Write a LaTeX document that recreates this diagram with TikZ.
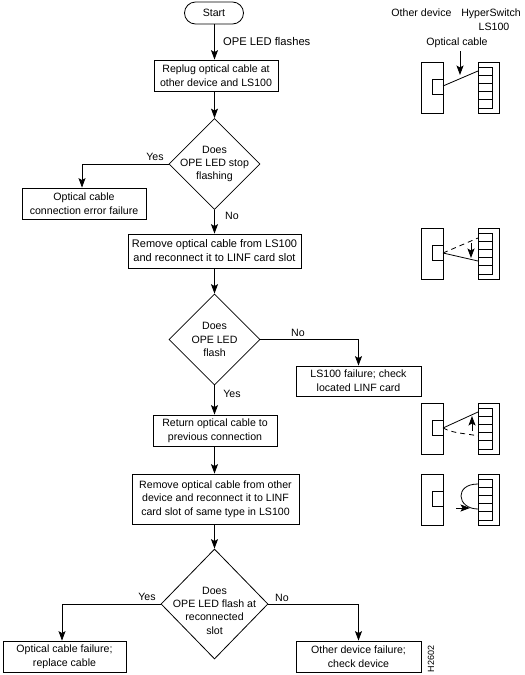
\documentclass[tikz,border=0pt]{standalone}
\usepackage{fontspec}
\setmainfont{Liberation Sans}
\usetikzlibrary{shapes.geometric,arrows.meta}
\tikzset{
  x=1pt,y=-1pt,
  every node/.style={font=\fontsize{10.6}{13.6}\selectfont},
  every label/.style={font=\fontsize{10.6}{13.4}\selectfont,align=center,inner sep=0pt},
  ln/.style={line width=0.8pt,black},
  arr/.style={ln,-{Stealth[length=9.5pt,width=7pt,inset=2pt]}},
  fbox/.style={ln,draw,rectangle,align=center,inner sep=0pt},
  startbox/.style={ln,draw,rectangle,rounded corners=11pt,minimum width=59pt,minimum height=22pt,inner sep=0pt},
  dia/.style={ln,draw,diamond,inner sep=0pt},
  txt/.style={inner sep=0pt,align=center},
}
\newcommand{\devicepair}[1]{%
  \draw[ln] (421.5,#1) rectangle (443,#1+51);
  \draw[ln] (432,#1+17.5) rectangle (443,#1+32);
  \draw[ln] (478,#1) rectangle (499,#1+51);
  \draw[ln] (478,#1+5) rectangle (492,#1+46);
  \foreach \k in {1,2,3,4} {\draw[ln] (478,#1+5+8.2*\k) -- (492,#1+5+8.2*\k);}
}
\begin{document}
\begin{tikzpicture}
\useasboundingbox[fill=white] (0,0) rectangle (525,675);
% flow nodes
\node[startbox] (start) at (214,13) {Start};
\node[fbox,minimum width=124pt,minimum height=31pt] (replug) at (216,75.5) {Replug optical cable at\\other device and LS100};
\node[dia,minimum width=91pt,minimum height=91pt,label={center:Does\\OPE LED stop\\flashing}] (d1) at (214.5,164) {};
\node[fbox,minimum width=124pt,minimum height=31pt] (err) at (84,203.5) {Optical cable\\connection error failure};
\node[fbox,minimum width=173pt,minimum height=34pt,font=\fontsize{11}{14}\selectfont] (rem) at (214.5,251) {Remove optical cable from LS100\\and reconnect it to LINF card slot};
\node[dia,minimum width=91pt,minimum height=91pt,label={center:Does\\OPE LED\\flash}] (d2) at (214.5,339.5) {};
\node[fbox,minimum width=125pt,minimum height=30pt] (lsf) at (358.5,381) {LS100 failure; check\\located LINF card};
\node[fbox,minimum width=124pt,minimum height=31pt] (ret) at (215,430.5) {Return optical cable to\\previous connection};
\node[fbox,minimum width=167pt,minimum height=50pt] (rem2) at (215.5,499) {Remove optical cable from other\\device and reconnect it to LINF\\card slot of same type in LS100};
\node[dia,minimum width=107pt,minimum height=110pt,label={[yshift=-6.5pt]center:Does\\OPE LED flash at\\reconnected\\slot}] (d3) at (214.5,604) {};
\node[fbox,minimum width=123pt,minimum height=31pt] (cf) at (64.5,656.5) {Optical cable failure;\\replace cable};
\node[fbox,minimum width=125pt,minimum height=31pt] (odf) at (358.5,656.5) {Other device failure;\\check device};
% connectors
\draw[arr] (start.south -| d1) -- (d1 |- replug.north);
\draw[arr] (replug.south -| d1) -- (d1.north);
\draw[arr] (d1.west) -| ([xshift=-2pt]err.north);
\draw[arr] (d1.south) -- (d1.south |- rem.north);
\draw[arr] (rem.south -| d2) -- (d2.north);
\draw[arr] (d2.east) -| (lsf.north);
\draw[arr] (d2.south) -- (d2.south |- ret.north);
\draw[arr] (ret.south -| d2) -- (d2 |- rem2.north);
\draw[arr] (rem2.south -| d3) -- (d3.north);
\draw[arr] (d3.west) -| ([xshift=-2.5pt]cf.north);
\draw[arr] (d3.east) -| (odf.north);
% labels
\node[txt,anchor=west,font=\fontsize{11.2}{14}\selectfont] (lflash) at (223,41) {OPE LED flashes};
\node[txt] (ly1) at (155,157) {Yes};
\node[txt] (ln1) at (232,216) {No};
\node[txt] (ln2) at (298,332.5) {No};
\node[txt] (ly2) at (232,394) {Yes};
\node[txt] (ly3) at (147,597) {Yes};
\node[txt] (ln3) at (282,598) {No};
\node[txt] (h1) at (421.5,13) {Other device};
\node[txt] (h2) at (491,19.5) {HyperSwitch\\\hspace*{6pt}LS100};
\node[txt] (h3) at (457,43) {Optical cable};
\node[txt,rotate=90,font=\fontsize{9}{10}\selectfont] (fig) at (431,659) {H2602};
% device sketches
\devicepair{62}
\draw[ln] (443,86) -- (478,71);
\draw[arr] (460,51) -- (460,75);
\devicepair{228}
\draw[ln] (443,253) -- (478,261);
\draw[ln,dash pattern=on 5pt off 4pt] (443,253) -- (478,238);
\draw[arr] (471,243) -- (471,258);
\devicepair{403}
\draw[ln] (443,428) -- (478,412);
\draw[ln,dash pattern=on 5pt off 4pt] (443,428) .. controls (455,434) and (465,433) .. (478,436);
\draw[arr] (472,431) -- (472,416);
\devicepair{474}
\draw[ln] (478,484) .. controls (466,484) and (461,490) .. (461,496) .. controls (461,503) and (468,509) .. (478,509);
\draw[arr] (456,508) -- (470,508);
\end{tikzpicture}
\end{document}
